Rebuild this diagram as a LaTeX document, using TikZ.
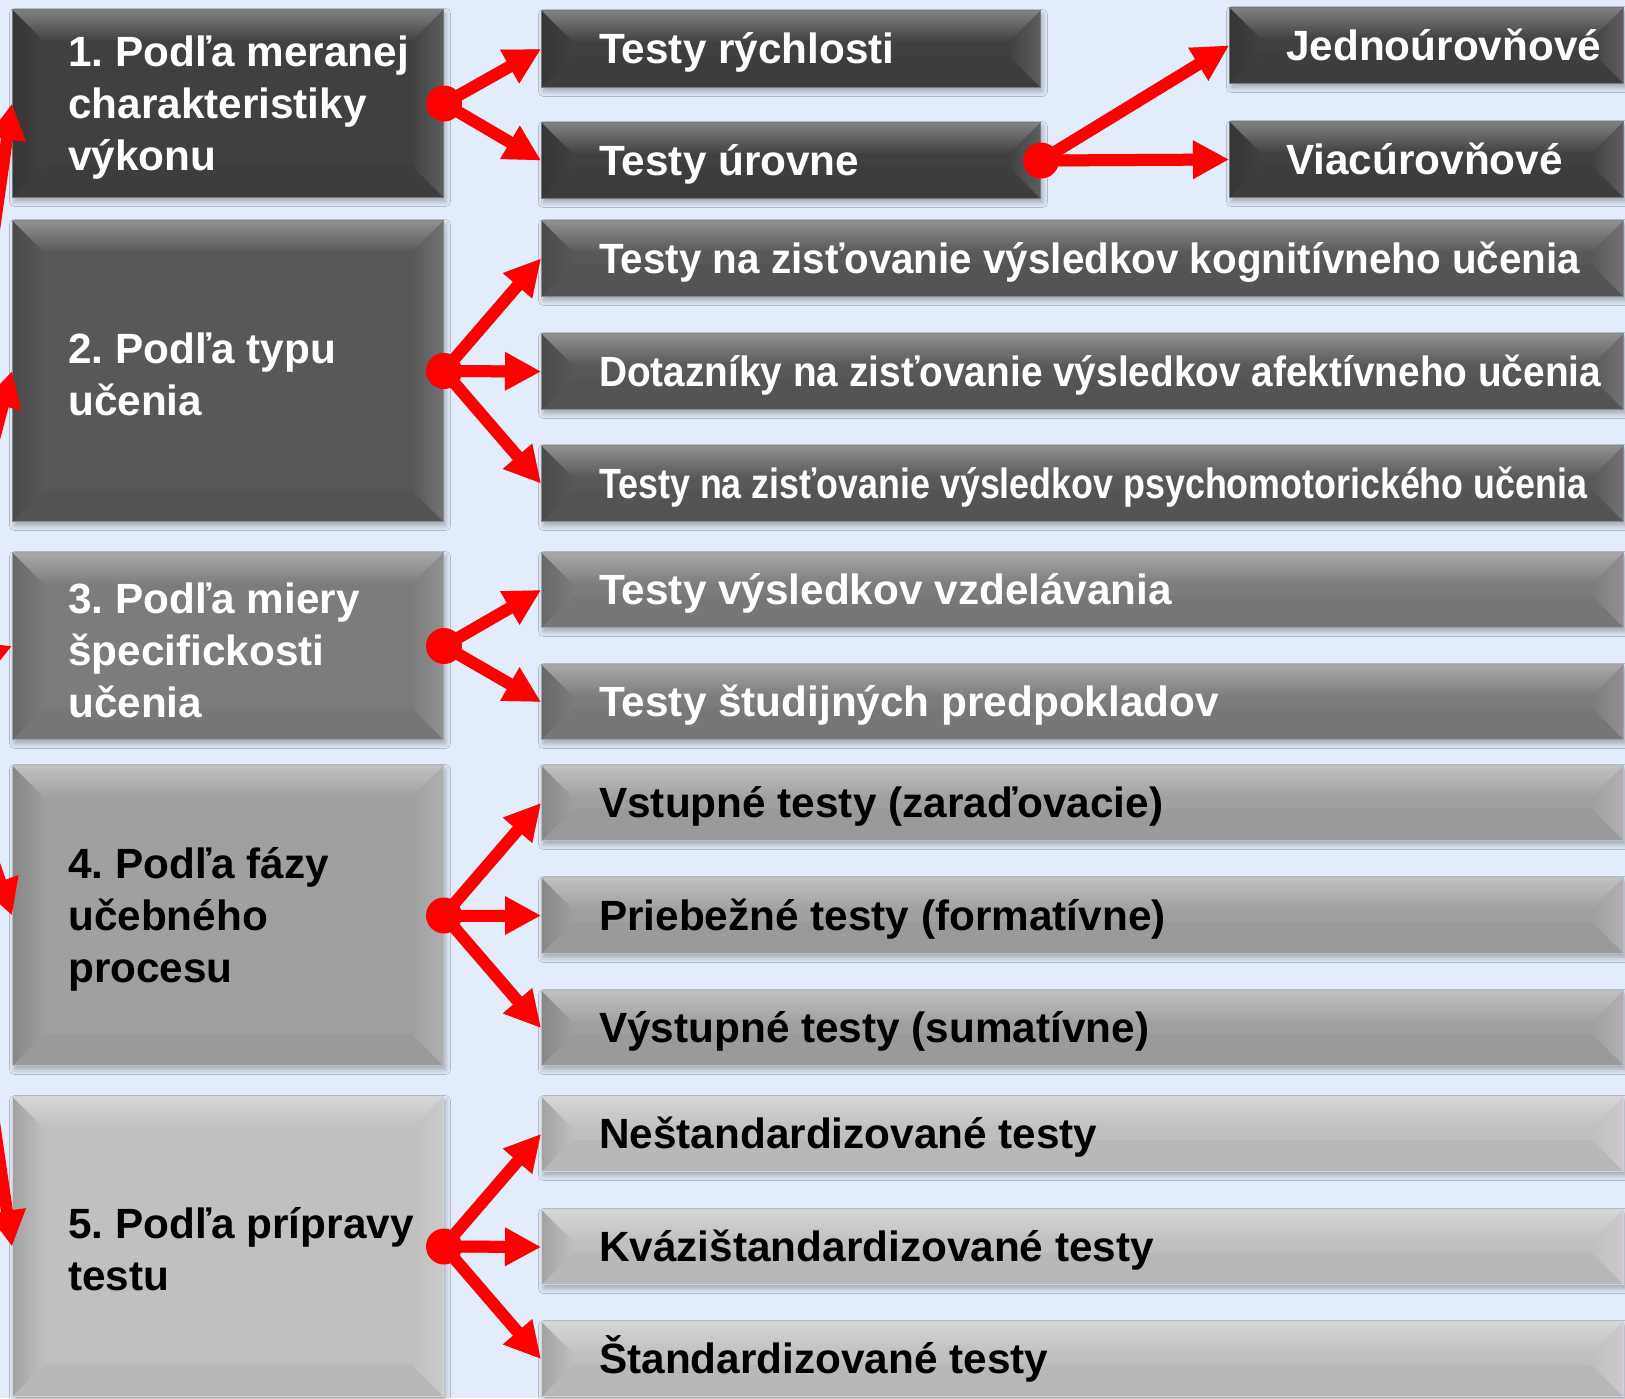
\documentclass[tikz,border=0pt]{standalone}
\usepackage{fontspec}
\usepackage{graphicx}
\setmainfont{Liberation Sans}
\usetikzlibrary{arrows.meta,shadows.blur}
\frenchspacing

\definecolor{bg}{HTML}{E3ECFA}
\definecolor{g1}{HTML}{404040}
\definecolor{g2}{HTML}{585858}
\definecolor{g3}{HTML}{7C7C7C}
\definecolor{g4}{HTML}{A0A0A0}
\definecolor{g5}{HTML}{C0C0C0}
\definecolor{arrred}{HTML}{FF0000}

\newlength\bv
\setlength\bv{32pt}
% squeeze a label horizontally to a given width, keeping its height
\newcommand\fitw[2]{\resizebox{#1}{\height}{#2}}

\tikzset{
  bev/.style={rectangle, anchor=north west, inner sep=0pt, fill=#1,
    draw=#1!70!white, line width=1pt,
    blur shadow={shadow xshift=2pt, shadow yshift=-4pt, shadow blur steps=8,
      shadow opacity=30, shadow blur radius=5pt},
    path picture={
      \fill[#1!96!black]
        (path picture bounding box.south west)
        -- ([xshift=\bv,yshift=\bv]path picture bounding box.south west)
        -- ([xshift=-\bv,yshift=\bv]path picture bounding box.south east)
        -- (path picture bounding box.south east) -- cycle;
      \shade[left color=#1!84!black, right color=#1]
        (path picture bounding box.north west)
        -- ([xshift=\bv,yshift=-\bv]path picture bounding box.north west)
        -- ([xshift=\bv,yshift=\bv]path picture bounding box.south west)
        -- (path picture bounding box.south west) -- cycle;
      \shade[left color=#1, right color=#1!84!white]
        (path picture bounding box.north east)
        -- ([xshift=-\bv,yshift=-\bv]path picture bounding box.north east)
        -- ([xshift=-\bv,yshift=\bv]path picture bounding box.south east)
        -- (path picture bounding box.south east) -- cycle;
      \shade[top color=#1!66!white, bottom color=#1]
        (path picture bounding box.north west)
        -- (path picture bounding box.north east)
        -- ([xshift=-\bv,yshift=-\bv]path picture bounding box.north east)
        -- ([xshift=\bv,yshift=-\bv]path picture bounding box.north west) -- cycle;
    }},
  lbl/.style={anchor=west, inner sep=0pt, align=left, text=#1,
    font=\bfseries\fontsize{42.3}{52}\selectfont},
  rlbl/.style={anchor=west, inner sep=0pt, text=#1, text height=30pt, text depth=9pt,
    font=\bfseries\fontsize{42.3}{50}\selectfont},
  arr/.style={draw=arrred, line width=12pt, -{Triangle[length=36pt,width=36pt]}},
  shd/.style={draw=black, line width=12pt, -{Triangle[length=36pt,width=36pt]}},
  hubdot/.style={fill=arrred},
}

\begin{document}
\begin{tikzpicture}[x=1pt, y=-1pt]
\useasboundingbox (0,0) rectangle (1625,1398);
\fill[bg] (0,0) rectangle (1625,1398);

\begin{scope}
\clip (0,0) rectangle (1625,1398);

% category boxes on the left
\node[bev=g1, minimum width=431pt, minimum height=188pt] (c1) at (12,9) {};
\node[bev=g2, minimum width=431pt, minimum height=301pt] (c2) at (12,220) {};
\node[bev=g3, minimum width=431pt, minimum height=187pt] (c3) at (12,552) {};
\node[bev=g4, minimum width=431pt, minimum height=300pt] (c4) at (12,765) {};
\node[bev=g5, minimum width=431pt, minimum height=300pt] (c5) at (12,1096) {};

% entry arrows coming in from the left edge
\coordinate (hub) at (-70,680);
\foreach \c in {c1,c2,c3,c4,c5} \draw[arr] (hub) -- (\c.west);

% test types
\node[bev=g1, minimum width=499pt, minimum height=77pt] (a1) at (541,10) {};
\node[bev=g1, minimum width=499pt, minimum height=76pt] (a2) at (541,122) {};
\node[bev=g1, minimum width=394pt, minimum height=76pt] (j1) at (1229,7) {};
\node[bev=g1, minimum width=394pt, minimum height=76pt] (j2) at (1229,121) {};

\node[bev=g2, minimum width=1082pt, minimum height=76pt] (b1) at (541,220) {};
\node[bev=g2, minimum width=1082pt, minimum height=76pt] (b2) at (541,333) {};
\node[bev=g2, minimum width=1082pt, minimum height=76pt] (b3) at (541,445) {};

\node[bev=g3, minimum width=1082pt, minimum height=75pt] (s1) at (541,552) {};
\node[bev=g3, minimum width=1082pt, minimum height=75pt] (s2) at (541,664) {};

\node[bev=g4, minimum width=1082pt, minimum height=75pt] (f1) at (541,765) {};
\node[bev=g4, minimum width=1082pt, minimum height=76pt] (f2) at (541,877) {};
\node[bev=g4, minimum width=1082pt, minimum height=75pt] (f3) at (541,990) {};

\node[bev=g5, minimum width=1082pt, minimum height=75pt] (p1) at (541,1096) {};
\node[bev=g5, minimum width=1082pt, minimum height=75pt] (p2) at (541,1209) {};
\node[bev=g5, minimum width=1082pt, minimum height=75pt] (p3) at (541,1321) {};

% soft shadows under the connectors
\begin{scope}[transparency group, opacity=0.28, shift={(3pt,-5pt)}]
  \draw[shd] (c1.east) -- (a1.west);
  \draw[shd] (c1.east) -- (a2.west);
  \draw[shd] (a2.east) -- (j1.west);
  \draw[shd] (a2.east) -- (j2.west);
  \foreach \t in {b1,b2,b3} \draw[shd] (c2.east) -- (\t.west);
  \foreach \t in {s1,s2} \draw[shd] (c3.east) -- (\t.west);
  \foreach \t in {f1,f2,f3} \draw[shd] (c4.east) -- (\t.west);
  \foreach \t in {p1,p2,p3} \draw[shd] (c5.east) -- (\t.west);
\end{scope}

% connectors
\draw[arr] (c1.east) -- (a1.west);
\draw[arr] (c1.east) -- (a2.west);
\draw[arr] (a2.east) -- (j1.west);
\draw[arr] (a2.east) -- (j2.west);
\foreach \t in {b1,b2,b3} \draw[arr] (c2.east) -- (\t.west);
\foreach \t in {s1,s2} \draw[arr] (c3.east) -- (\t.west);
\foreach \t in {f1,f2,f3} \draw[arr] (c4.east) -- (\t.west);
\foreach \t in {p1,p2,p3} \draw[arr] (c5.east) -- (\t.west);

% branching dots
\foreach \c in {c1,c2,c3,c4,c5,a2} \fill[hubdot] (\c.east) circle[radius=18pt];

% labels of the categories
\node[lbl=white] (t1) at ([xshift=56pt,yshift=-4pt]c1.west) {1. Podľa meranej\\charakteristiky\\výkonu};
\node[lbl=white] (t2) at ([xshift=56pt,yshift=-3pt]c2.west) {2. Podľa typu\\učenia};
\node[lbl=white] (t3) at ([xshift=56pt,yshift=-4pt]c3.west) {3. Podľa miery\\špecifickosti\\učenia};
\node[lbl=black] (t4) at ([xshift=56pt,yshift=-4pt]c4.west) {4. Podľa fázy\\učebného\\procesu};
\node[lbl=black] (t5) at ([xshift=56pt,yshift=-3pt]c5.west) {5. Podľa prípravy\\testu};

% labels of the test types
\begin{scope}[every node/.append style={yshift=-4pt}]
\node[rlbl=white] (ta1) at ([xshift=58pt]a1.west) {Testy rýchlosti};
\node[rlbl=white] (ta2) at ([xshift=58pt]a2.west) {Testy úrovne};
\node[rlbl=white] (tj1) at ([xshift=57pt]j1.west) {Jednoúrovňové};
\node[rlbl=white] (tj2) at ([xshift=57pt]j2.west) {Viacúrovňové};
\node[rlbl=white] (tb1) at ([xshift=58pt]b1.west) {\fitw{981pt}{Testy na zisťovanie výsledkov kognitívneho učenia}};
\node[rlbl=white] (tb2) at ([xshift=58pt]b2.west) {\fitw{1002pt}{Dotazníky na zisťovanie výsledkov afektívneho učenia}};
\node[rlbl=white] (tb3) at ([xshift=58pt]b3.west) {\fitw{988pt}{Testy na zisťovanie výsledkov psychomotorického učenia}};
\node[rlbl=white] (ts1) at ([xshift=58pt]s1.west) {Testy výsledkov vzdelávania};
\node[rlbl=white] (ts2) at ([xshift=58pt]s2.west) {Testy študijných predpokladov};
\node[rlbl=black] (tf1) at ([xshift=58pt]f1.west) {Vstupné testy (zaraďovacie)};
\node[rlbl=black] (tf2) at ([xshift=58pt]f2.west) {Priebežné testy (formatívne)};
\node[rlbl=black] (tf3) at ([xshift=58pt]f3.west) {Výstupné testy (sumatívne)};
\node[rlbl=black] (tp1) at ([xshift=58pt]p1.west) {Neštandardizované testy};
\node[rlbl=black] (tp2) at ([xshift=58pt]p2.west) {Kvázištandardizované testy};
\node[rlbl=black] (tp3) at ([xshift=58pt]p3.west) {Štandardizované testy};
\end{scope}
\end{scope}
\end{tikzpicture}
\end{document}
